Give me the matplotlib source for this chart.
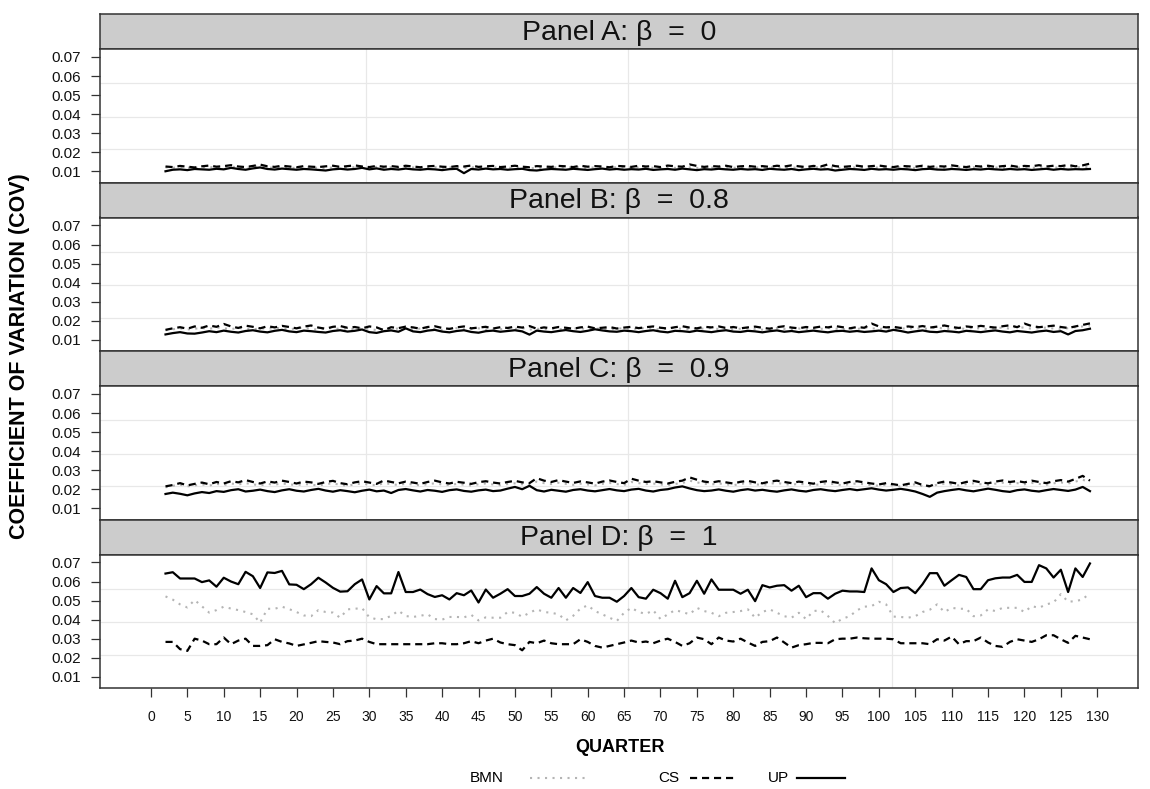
import matplotlib
matplotlib.use("Agg")
import matplotlib.pyplot as plt
from matplotlib.lines import Line2D

# quarters 2..129, values
QUARTERS = list(range(2, 130))

A_BMN = [
    0.0121, 0.0118, 0.0122, 0.0119, 0.0117, 0.0121, 0.0123, 0.0119, 0.0120, 0.0124, 0.0121, 0.0118, 0.0122, 0.0126, 0.0120, 0.0118,
    0.0122, 0.0119, 0.0117, 0.0121, 0.0120, 0.0118, 0.0116, 0.0121, 0.0123, 0.0119, 0.0122, 0.0125, 0.0120, 0.0123, 0.0118, 0.0121,
    0.0119, 0.0122, 0.0120, 0.0118, 0.0121, 0.0122, 0.0118, 0.0120, 0.0122, 0.0117, 0.0121, 0.0119, 0.0122, 0.0120, 0.0121, 0.0118,
    0.0120, 0.0122, 0.0117, 0.0116, 0.0119, 0.0121, 0.0120, 0.0118, 0.0122, 0.0120, 0.0117, 0.0121, 0.0123, 0.0119, 0.0121, 0.0118,
    0.0120, 0.0119, 0.0122, 0.0118, 0.0120, 0.0122, 0.0118, 0.0123, 0.0120, 0.0117, 0.0121, 0.0119, 0.0122, 0.0120, 0.0118, 0.0121,
    0.0119, 0.0121, 0.0118, 0.0122, 0.0120, 0.0118, 0.0121, 0.0117, 0.0120, 0.0123, 0.0119, 0.0121, 0.0116, 0.0118, 0.0121, 0.0120,
    0.0118, 0.0122, 0.0119, 0.0121, 0.0118, 0.0121, 0.0120, 0.0117, 0.0121, 0.0122, 0.0119, 0.0118, 0.0121, 0.0120, 0.0118, 0.0121,
    0.0119, 0.0122, 0.0120, 0.0118, 0.0121, 0.0119, 0.0121, 0.0118, 0.0120, 0.0122, 0.0119, 0.0121, 0.0120, 0.0122, 0.0121, 0.0124,
]
A_CS = [
    0.0125, 0.0122, 0.0128, 0.0124, 0.0120, 0.0126, 0.0130, 0.0124, 0.0127, 0.0132, 0.0125, 0.0122, 0.0128, 0.0135, 0.0126, 0.0123,
    0.0129, 0.0125, 0.0121, 0.0127, 0.0124, 0.0122, 0.0126, 0.0129, 0.0123, 0.0127, 0.0131, 0.0125, 0.0122, 0.0128, 0.0124, 0.0127,
    0.0123, 0.0129, 0.0125, 0.0121, 0.0126, 0.0128, 0.0124, 0.0122, 0.0127, 0.0125, 0.0130, 0.0123, 0.0126, 0.0128, 0.0122, 0.0125,
    0.0129, 0.0124, 0.0121, 0.0127, 0.0125, 0.0123, 0.0128, 0.0126, 0.0122, 0.0129, 0.0124, 0.0127, 0.0125, 0.0121, 0.0128, 0.0126,
    0.0123, 0.0129, 0.0125, 0.0127, 0.0122, 0.0130, 0.0126, 0.0124, 0.0136, 0.0128, 0.0123, 0.0127, 0.0125, 0.0129, 0.0122, 0.0126,
    0.0128, 0.0124, 0.0127, 0.0123, 0.0129, 0.0125, 0.0131, 0.0126, 0.0122, 0.0128, 0.0125, 0.0136, 0.0127, 0.0123, 0.0126, 0.0129,
    0.0124, 0.0127, 0.0130, 0.0125, 0.0122, 0.0128, 0.0126, 0.0124, 0.0129, 0.0123, 0.0127, 0.0125, 0.0131, 0.0126, 0.0122, 0.0128,
    0.0125, 0.0129, 0.0123, 0.0127, 0.0130, 0.0124, 0.0128, 0.0126, 0.0132, 0.0125, 0.0129, 0.0127, 0.0133, 0.0126, 0.0131, 0.0140,
]
A_UP = [
    0.0100, 0.0108, 0.0110, 0.0106, 0.0112, 0.0110, 0.0108, 0.0113, 0.0110, 0.0118, 0.0112, 0.0108, 0.0115, 0.0120, 0.0112, 0.0109,
    0.0114, 0.0111, 0.0108, 0.0112, 0.0110, 0.0107, 0.0104, 0.0110, 0.0113, 0.0109, 0.0112, 0.0118, 0.0110, 0.0115, 0.0108, 0.0112,
    0.0109, 0.0114, 0.0110, 0.0108, 0.0112, 0.0110, 0.0106, 0.0111, 0.0113, 0.0090, 0.0112, 0.0109, 0.0114, 0.0110, 0.0112, 0.0108,
    0.0111, 0.0113, 0.0106, 0.0104, 0.0109, 0.0112, 0.0110, 0.0108, 0.0113, 0.0110, 0.0107, 0.0111, 0.0114, 0.0109, 0.0112, 0.0108,
    0.0111, 0.0109, 0.0113, 0.0107, 0.0110, 0.0112, 0.0108, 0.0114, 0.0110, 0.0106, 0.0111, 0.0109, 0.0113, 0.0110, 0.0108, 0.0112,
    0.0109, 0.0111, 0.0107, 0.0113, 0.0110, 0.0108, 0.0112, 0.0106, 0.0110, 0.0113, 0.0109, 0.0111, 0.0104, 0.0108, 0.0112, 0.0110,
    0.0107, 0.0113, 0.0109, 0.0111, 0.0108, 0.0112, 0.0110, 0.0106, 0.0111, 0.0113, 0.0109, 0.0108, 0.0112, 0.0110, 0.0107, 0.0111,
    0.0109, 0.0113, 0.0110, 0.0108, 0.0112, 0.0109, 0.0111, 0.0107, 0.0110, 0.0113, 0.0108, 0.0112, 0.0109, 0.0111, 0.0110, 0.0112,
]

B_BMN = [
    0.0150, 0.0155, 0.0160, 0.0154, 0.0158, 0.0162, 0.0157, 0.0165, 0.0160, 0.0156, 0.0162, 0.0159, 0.0154, 0.0161, 0.0157, 0.0163,
    0.0159, 0.0155, 0.0160, 0.0164, 0.0157, 0.0153, 0.0159, 0.0162, 0.0156, 0.0160, 0.0155, 0.0161, 0.0158, 0.0150, 0.0157, 0.0154,
    0.0160, 0.0157, 0.0153, 0.0159, 0.0162, 0.0156, 0.0152, 0.0158, 0.0161, 0.0155, 0.0157, 0.0160, 0.0154, 0.0158, 0.0155, 0.0160,
    0.0157, 0.0162, 0.0153, 0.0158, 0.0155, 0.0159, 0.0157, 0.0153, 0.0158, 0.0161, 0.0155, 0.0157, 0.0160, 0.0154, 0.0158, 0.0161,
    0.0156, 0.0159, 0.0162, 0.0157, 0.0154, 0.0159, 0.0162, 0.0157, 0.0155, 0.0160, 0.0158, 0.0162, 0.0156, 0.0159, 0.0155, 0.0158,
    0.0161, 0.0156, 0.0153, 0.0158, 0.0162, 0.0157, 0.0154, 0.0159, 0.0156, 0.0160, 0.0157, 0.0162, 0.0158, 0.0154, 0.0159, 0.0156,
    0.0165, 0.0160, 0.0157, 0.0159, 0.0155, 0.0160, 0.0158, 0.0162, 0.0156, 0.0160, 0.0164, 0.0158, 0.0155, 0.0160, 0.0157, 0.0162,
    0.0159, 0.0156, 0.0161, 0.0164, 0.0158, 0.0170, 0.0162, 0.0158, 0.0161, 0.0164, 0.0159, 0.0155, 0.0161, 0.0166, 0.0170, 0.0175,
]
B_CS = [
    0.0152, 0.0160, 0.0166, 0.0158, 0.0170, 0.0163, 0.0175, 0.0168, 0.0183, 0.0170, 0.0162, 0.0174, 0.0168, 0.0160, 0.0171, 0.0165,
    0.0173, 0.0167, 0.0160, 0.0169, 0.0175, 0.0164, 0.0158, 0.0168, 0.0172, 0.0163, 0.0167, 0.0160, 0.0170, 0.0165, 0.0150, 0.0166,
    0.0161, 0.0169, 0.0165, 0.0158, 0.0167, 0.0171, 0.0162, 0.0157, 0.0165, 0.0170, 0.0160, 0.0164, 0.0168, 0.0159, 0.0166, 0.0162,
    0.0169, 0.0164, 0.0172, 0.0158, 0.0165, 0.0160, 0.0167, 0.0163, 0.0158, 0.0165, 0.0169, 0.0160, 0.0163, 0.0167, 0.0159, 0.0164,
    0.0168, 0.0161, 0.0166, 0.0170, 0.0163, 0.0159, 0.0166, 0.0171, 0.0164, 0.0160, 0.0168, 0.0165, 0.0170, 0.0162, 0.0167, 0.0160,
    0.0165, 0.0169, 0.0163, 0.0158, 0.0166, 0.0171, 0.0164, 0.0160, 0.0167, 0.0163, 0.0169, 0.0165, 0.0172, 0.0166, 0.0160, 0.0167,
    0.0163, 0.0185, 0.0170, 0.0165, 0.0168, 0.0162, 0.0170, 0.0166, 0.0172, 0.0164, 0.0169, 0.0175, 0.0167, 0.0162, 0.0170, 0.0166,
    0.0173, 0.0168, 0.0164, 0.0171, 0.0176, 0.0166, 0.0185, 0.0172, 0.0166, 0.0170, 0.0174, 0.0167, 0.0162, 0.0170, 0.0178, 0.0186,
]
B_UP = [
    0.0128, 0.0135, 0.0140, 0.0133, 0.0132, 0.0138, 0.0145, 0.0140, 0.0148, 0.0142, 0.0138, 0.0146, 0.0150, 0.0143, 0.0139, 0.0147,
    0.0152, 0.0144, 0.0140, 0.0148, 0.0145, 0.0141, 0.0138, 0.0146, 0.0150, 0.0143, 0.0147, 0.0154, 0.0140, 0.0136, 0.0145, 0.0149,
    0.0142, 0.0160, 0.0144, 0.0140, 0.0148, 0.0152, 0.0143, 0.0139, 0.0146, 0.0150, 0.0141, 0.0137, 0.0145, 0.0148, 0.0142, 0.0146,
    0.0150, 0.0144, 0.0127, 0.0148, 0.0143, 0.0140, 0.0146, 0.0151, 0.0145, 0.0141, 0.0147, 0.0155, 0.0149, 0.0144, 0.0142, 0.0148,
    0.0145, 0.0140, 0.0146, 0.0150, 0.0143, 0.0139, 0.0147, 0.0145, 0.0141, 0.0148, 0.0144, 0.0140, 0.0146, 0.0150, 0.0143, 0.0141,
    0.0147, 0.0144, 0.0139, 0.0145, 0.0149, 0.0142, 0.0146, 0.0140, 0.0144, 0.0148, 0.0143, 0.0139, 0.0145, 0.0147, 0.0142, 0.0146,
    0.0141, 0.0144, 0.0148, 0.0143, 0.0152, 0.0146, 0.0138, 0.0144, 0.0149, 0.0142, 0.0140, 0.0146, 0.0143, 0.0139, 0.0147, 0.0144,
    0.0140, 0.0145, 0.0149, 0.0143, 0.0139, 0.0146, 0.0142, 0.0138, 0.0144, 0.0148, 0.0141, 0.0145, 0.0128, 0.0146, 0.0150, 0.0158,
]

C_BMN = [
    0.0210, 0.0218, 0.0224, 0.0215, 0.0220, 0.0226, 0.0219, 0.0228, 0.0222, 0.0230, 0.0225, 0.0232, 0.0226, 0.0220, 0.0228, 0.0224,
    0.0230, 0.0226, 0.0221, 0.0228, 0.0224, 0.0219, 0.0227, 0.0231, 0.0223, 0.0218, 0.0226, 0.0230, 0.0224, 0.0220, 0.0232, 0.0227,
    0.0222, 0.0229, 0.0225, 0.0220, 0.0227, 0.0231, 0.0225, 0.0221, 0.0228, 0.0224, 0.0219, 0.0226, 0.0230, 0.0225, 0.0221, 0.0227,
    0.0231, 0.0226, 0.0222, 0.0240, 0.0232, 0.0227, 0.0234, 0.0228, 0.0223, 0.0229, 0.0225, 0.0220, 0.0228, 0.0233, 0.0227, 0.0222,
    0.0238, 0.0232, 0.0227, 0.0230, 0.0225, 0.0221, 0.0228, 0.0232, 0.0245, 0.0236, 0.0229, 0.0225, 0.0230, 0.0226, 0.0221, 0.0228,
    0.0232, 0.0226, 0.0222, 0.0229, 0.0233, 0.0227, 0.0223, 0.0229, 0.0225, 0.0220, 0.0227, 0.0231, 0.0226, 0.0221, 0.0227, 0.0230,
    0.0226, 0.0221, 0.0218, 0.0224, 0.0219, 0.0214, 0.0221, 0.0226, 0.0216, 0.0212, 0.0224, 0.0229, 0.0225, 0.0220, 0.0227, 0.0231,
    0.0226, 0.0222, 0.0229, 0.0234, 0.0228, 0.0232, 0.0226, 0.0233, 0.0228, 0.0223, 0.0231, 0.0236, 0.0230, 0.0240, 0.0250, 0.0235,
]
C_CS = [
    0.0215, 0.0222, 0.0232, 0.0220, 0.0228, 0.0235, 0.0226, 0.0238, 0.0230, 0.0242, 0.0236, 0.0248, 0.0238, 0.0230, 0.0241, 0.0235,
    0.0245, 0.0238, 0.0230, 0.0240, 0.0236, 0.0228, 0.0238, 0.0244, 0.0232, 0.0226, 0.0236, 0.0242, 0.0235, 0.0228, 0.0246, 0.0238,
    0.0231, 0.0240, 0.0235, 0.0228, 0.0238, 0.0245, 0.0236, 0.0230, 0.0239, 0.0234, 0.0228, 0.0237, 0.0242, 0.0235, 0.0230, 0.0238,
    0.0244, 0.0236, 0.0232, 0.0258, 0.0245, 0.0238, 0.0248, 0.0240, 0.0233, 0.0241, 0.0236, 0.0229, 0.0240, 0.0246, 0.0238, 0.0232,
    0.0255, 0.0245, 0.0238, 0.0242, 0.0236, 0.0230, 0.0239, 0.0245, 0.0262, 0.0250, 0.0240, 0.0235, 0.0242, 0.0236, 0.0230, 0.0239,
    0.0244, 0.0236, 0.0231, 0.0240, 0.0245, 0.0238, 0.0232, 0.0240, 0.0235, 0.0229, 0.0238, 0.0243, 0.0236, 0.0230, 0.0238, 0.0242,
    0.0236, 0.0230, 0.0225, 0.0232, 0.0226, 0.0220, 0.0228, 0.0236, 0.0222, 0.0216, 0.0232, 0.0240, 0.0235, 0.0228, 0.0238, 0.0244,
    0.0236, 0.0231, 0.0240, 0.0246, 0.0238, 0.0243, 0.0236, 0.0245, 0.0238, 0.0232, 0.0242, 0.0248, 0.0240, 0.0254, 0.0270, 0.0245,
]
C_UP = [
    0.0175, 0.0182, 0.0176, 0.0168, 0.0178, 0.0185, 0.0180, 0.0190, 0.0186, 0.0195, 0.0200, 0.0188, 0.0192, 0.0198, 0.0190, 0.0185,
    0.0194, 0.0200, 0.0192, 0.0188, 0.0196, 0.0202, 0.0193, 0.0187, 0.0195, 0.0190, 0.0184, 0.0192, 0.0198, 0.0189, 0.0193, 0.0180,
    0.0196, 0.0201, 0.0194, 0.0188, 0.0196, 0.0192, 0.0186, 0.0195, 0.0199, 0.0191, 0.0187, 0.0194, 0.0198, 0.0190, 0.0193, 0.0203,
    0.0212, 0.0200, 0.0218, 0.0195, 0.0188, 0.0197, 0.0192, 0.0187, 0.0196, 0.0200, 0.0193, 0.0189, 0.0195, 0.0201, 0.0194, 0.0190,
    0.0198, 0.0202, 0.0193, 0.0188, 0.0196, 0.0200, 0.0209, 0.0215, 0.0204, 0.0195, 0.0190, 0.0193, 0.0199, 0.0192, 0.0187, 0.0195,
    0.0200, 0.0193, 0.0197, 0.0191, 0.0187, 0.0194, 0.0199, 0.0192, 0.0188, 0.0196, 0.0200, 0.0194, 0.0190, 0.0196, 0.0201, 0.0195,
    0.0200, 0.0205, 0.0198, 0.0193, 0.0197, 0.0202, 0.0196, 0.0188, 0.0175, 0.0160, 0.0182, 0.0190, 0.0196, 0.0201, 0.0194, 0.0189,
    0.0196, 0.0203, 0.0197, 0.0190, 0.0186, 0.0195, 0.0199, 0.0192, 0.0188, 0.0195, 0.0201, 0.0196, 0.0191, 0.0198, 0.0212, 0.0190,
]

D_BMN = [
    0.0522, 0.0505, 0.0480, 0.0464, 0.0503, 0.0470, 0.0437, 0.0450, 0.0468, 0.0458, 0.0450, 0.0440, 0.0428, 0.0384, 0.0457, 0.0457,
    0.0468, 0.0455, 0.0440, 0.0422, 0.0418, 0.0450, 0.0440, 0.0437, 0.0410, 0.0454, 0.0457, 0.0461, 0.0412, 0.0402, 0.0403, 0.0420,
    0.0447, 0.0419, 0.0414, 0.0420, 0.0428, 0.0403, 0.0400, 0.0414, 0.0414, 0.0412, 0.0425, 0.0396, 0.0412, 0.0410, 0.0410, 0.0440,
    0.0436, 0.0415, 0.0436, 0.0454, 0.0440, 0.0436, 0.0428, 0.0396, 0.0420, 0.0458, 0.0475, 0.0445, 0.0428, 0.0410, 0.0393, 0.0436,
    0.0462, 0.0440, 0.0430, 0.0449, 0.0403, 0.0428, 0.0450, 0.0440, 0.0428, 0.0462, 0.0445, 0.0436, 0.0418, 0.0436, 0.0440, 0.0445,
    0.0454, 0.0410, 0.0440, 0.0454, 0.0436, 0.0418, 0.0410, 0.0436, 0.0403, 0.0445, 0.0449, 0.0419, 0.0381, 0.0405, 0.0418, 0.0449,
    0.0468, 0.0471, 0.0494, 0.0480, 0.0416, 0.0414, 0.0410, 0.0418, 0.0440, 0.0452, 0.0480, 0.0440, 0.0462, 0.0457, 0.0457, 0.0418,
    0.0422, 0.0454, 0.0445, 0.0462, 0.0462, 0.0462, 0.0440, 0.0471, 0.0462, 0.0480, 0.0490, 0.0534, 0.0494, 0.0497, 0.0506, 0.0541,
]
D_CS = [
    0.0283, 0.0283, 0.0245, 0.0236, 0.0300, 0.0290, 0.0271, 0.0271, 0.0306, 0.0271, 0.0290, 0.0300, 0.0262, 0.0262, 0.0266, 0.0297,
    0.0283, 0.0275, 0.0262, 0.0270, 0.0278, 0.0287, 0.0283, 0.0280, 0.0271, 0.0287, 0.0290, 0.0300, 0.0283, 0.0271, 0.0271, 0.0271,
    0.0271, 0.0271, 0.0271, 0.0271, 0.0271, 0.0276, 0.0276, 0.0271, 0.0271, 0.0276, 0.0287, 0.0276, 0.0290, 0.0300, 0.0280, 0.0271,
    0.0266, 0.0239, 0.0283, 0.0276, 0.0290, 0.0276, 0.0271, 0.0271, 0.0271, 0.0297, 0.0283, 0.0262, 0.0253, 0.0262, 0.0271, 0.0280,
    0.0290, 0.0280, 0.0285, 0.0276, 0.0290, 0.0300, 0.0283, 0.0262, 0.0276, 0.0306, 0.0297, 0.0271, 0.0306, 0.0290, 0.0285, 0.0300,
    0.0280, 0.0262, 0.0283, 0.0287, 0.0306, 0.0280, 0.0253, 0.0266, 0.0271, 0.0278, 0.0278, 0.0276, 0.0297, 0.0300, 0.0300, 0.0306,
    0.0302, 0.0300, 0.0300, 0.0300, 0.0297, 0.0276, 0.0276, 0.0276, 0.0276, 0.0271, 0.0297, 0.0290, 0.0311, 0.0271, 0.0287, 0.0287,
    0.0306, 0.0280, 0.0262, 0.0257, 0.0283, 0.0297, 0.0290, 0.0283, 0.0297, 0.0318, 0.0318, 0.0297, 0.0278, 0.0315, 0.0306, 0.0297,
]
D_UP = [
    0.0642, 0.0649, 0.0616, 0.0616, 0.0616, 0.0597, 0.0606, 0.0573, 0.0620, 0.0600, 0.0586, 0.0651, 0.0628, 0.0566, 0.0648, 0.0645,
    0.0656, 0.0585, 0.0583, 0.0560, 0.0586, 0.0620, 0.0595, 0.0567, 0.0547, 0.0549, 0.0586, 0.0611, 0.0506, 0.0576, 0.0538, 0.0538,
    0.0650, 0.0545, 0.0545, 0.0558, 0.0534, 0.0519, 0.0528, 0.0506, 0.0539, 0.0528, 0.0553, 0.0490, 0.0558, 0.0515, 0.0536, 0.0560,
    0.0524, 0.0524, 0.0536, 0.0571, 0.0536, 0.0515, 0.0566, 0.0515, 0.0566, 0.0540, 0.0597, 0.0524, 0.0515, 0.0515, 0.0494, 0.0524,
    0.0566, 0.0518, 0.0510, 0.0557, 0.0539, 0.0510, 0.0604, 0.0518, 0.0539, 0.0604, 0.0536, 0.0611, 0.0557, 0.0557, 0.0557, 0.0536,
    0.0557, 0.0497, 0.0581, 0.0569, 0.0578, 0.0581, 0.0552, 0.0578, 0.0518, 0.0539, 0.0539, 0.0510, 0.0536, 0.0552, 0.0548, 0.0548,
    0.0545, 0.0669, 0.0607, 0.0586, 0.0545, 0.0566, 0.0569, 0.0539, 0.0586, 0.0644, 0.0644, 0.0578, 0.0607, 0.0635, 0.0624, 0.0560,
    0.0560, 0.0607, 0.0617, 0.0621, 0.0621, 0.0635, 0.0598, 0.0598, 0.0686, 0.0669, 0.0621, 0.0662, 0.0545, 0.0669, 0.0624, 0.0695,
]

PANEL_TITLES = ["Panel A: β  =  0", "Panel B: β  =  0.8", "Panel C: β  =  0.9", "Panel D: β  =  1"]
SERIES_NAMES = ["BMN", "CS", "UP"]
PANEL_DATA = [
    (A_BMN, A_CS, A_UP),
    (B_BMN, B_CS, B_UP),
    (C_BMN, C_CS, C_UP),
    (D_BMN, D_CS, D_UP),
]
Y_TICKS = [0.01, 0.02, 0.03, 0.04, 0.05, 0.06, 0.07]
X_TICKS = list(range(0, 131, 5))

plt.rcParams["font.family"] = ["Liberation Sans", "DejaVu Sans"]

W, H = 1150, 789
LEFT, RIGHT = 100, 1138
TOP0, STRIP_H, PLOT_H = 14, 35, 133.5
FRAME = "#333333"

STYLES = {
    "BMN": dict(color="#b4b4b4", lw=1.5, linestyle=(0, (1, 2.6))),
    "CS":  dict(color="black", lw=1.6, linestyle=(0, (3.2, 2.2))),
    "UP":  dict(color="black", lw=1.6, linestyle="-"),
}


def box(top, h):
    return [LEFT / W, 1 - (top + h) / H, (RIGHT - LEFT) / W, h / H]


fig = plt.figure(figsize=(W / 100, H / 100), dpi=100)

for i, (title, data) in enumerate(zip(PANEL_TITLES, PANEL_DATA)):
    top = TOP0 + i * (STRIP_H + PLOT_H)

    strip = fig.add_axes(box(top, STRIP_H))
    strip.set_facecolor("#cccccc")
    strip.set_xticks([])
    strip.set_yticks([])
    for sp in strip.spines.values():
        sp.set_color(FRAME)
        sp.set_linewidth(1.1)
    strip.text(0.5, 0.47, title, transform=strip.transAxes, ha="center",
               va="center", fontsize=20.5, color="#111111")

    ax = fig.add_axes(box(top + STRIP_H, PLOT_H))
    for y in (0.0216, 0.0387, 0.0562):
        ax.axhline(y, color="#e8e8e8", lw=0.9, zorder=0)
    for x in (29.5, 65.6, 101.8):
        ax.axvline(x, color="#e8e8e8", lw=0.9, zorder=0)

    for name, values in zip(SERIES_NAMES, data):
        ax.plot(QUARTERS, values, zorder=3, **STYLES[name])

    ax.set_xlim(-7.0, 135.6)
    ax.set_ylim(0.0041, 0.0742)
    ax.set_yticks(Y_TICKS)
    ax.set_yticklabels([f"{v:.2f}" for v in Y_TICKS])
    ax.tick_params(axis="y", length=6.5, width=0.9, color=FRAME, pad=7,
                   labelsize=11, labelcolor="#111111")
    ax.set_xticks(X_TICKS)
    if i == 3:
        ax.tick_params(axis="x", length=6.5, width=0.9, color=FRAME, pad=9,
                       labelsize=10, labelcolor="#111111")
    else:
        ax.tick_params(axis="x", length=0, labelbottom=False)
    for sp in ax.spines.values():
        sp.set_color(FRAME)
        sp.set_linewidth(1.1)

fig.text(20 / W, 1 - 356 / H, "COEFFICIENT OF VARIATION (COV)", rotation=90,
         ha="center", va="center", fontsize=15.5, fontweight="bold")
fig.text(620 / W, 1 - 748 / H, "QUARTER", ha="center", va="center",
         fontsize=13, fontweight="bold")

# legend row: label text followed by a line sample
LEG_Y = 1 - 778 / H
LEG_POS = [(470, 530, 588), (658, 690, 738), (768, 797, 845)]
for name, (tx, x0, x1) in zip(SERIES_NAMES, LEG_POS):
    fig.text(tx / W, LEG_Y, name, ha="left", va="center", fontsize=11)
    fig.add_artist(Line2D([x0 / W, x1 / W], [LEG_Y, LEG_Y],
                          transform=fig.transFigure, **STYLES[name]))

fig.savefig("out.png", dpi=100)
